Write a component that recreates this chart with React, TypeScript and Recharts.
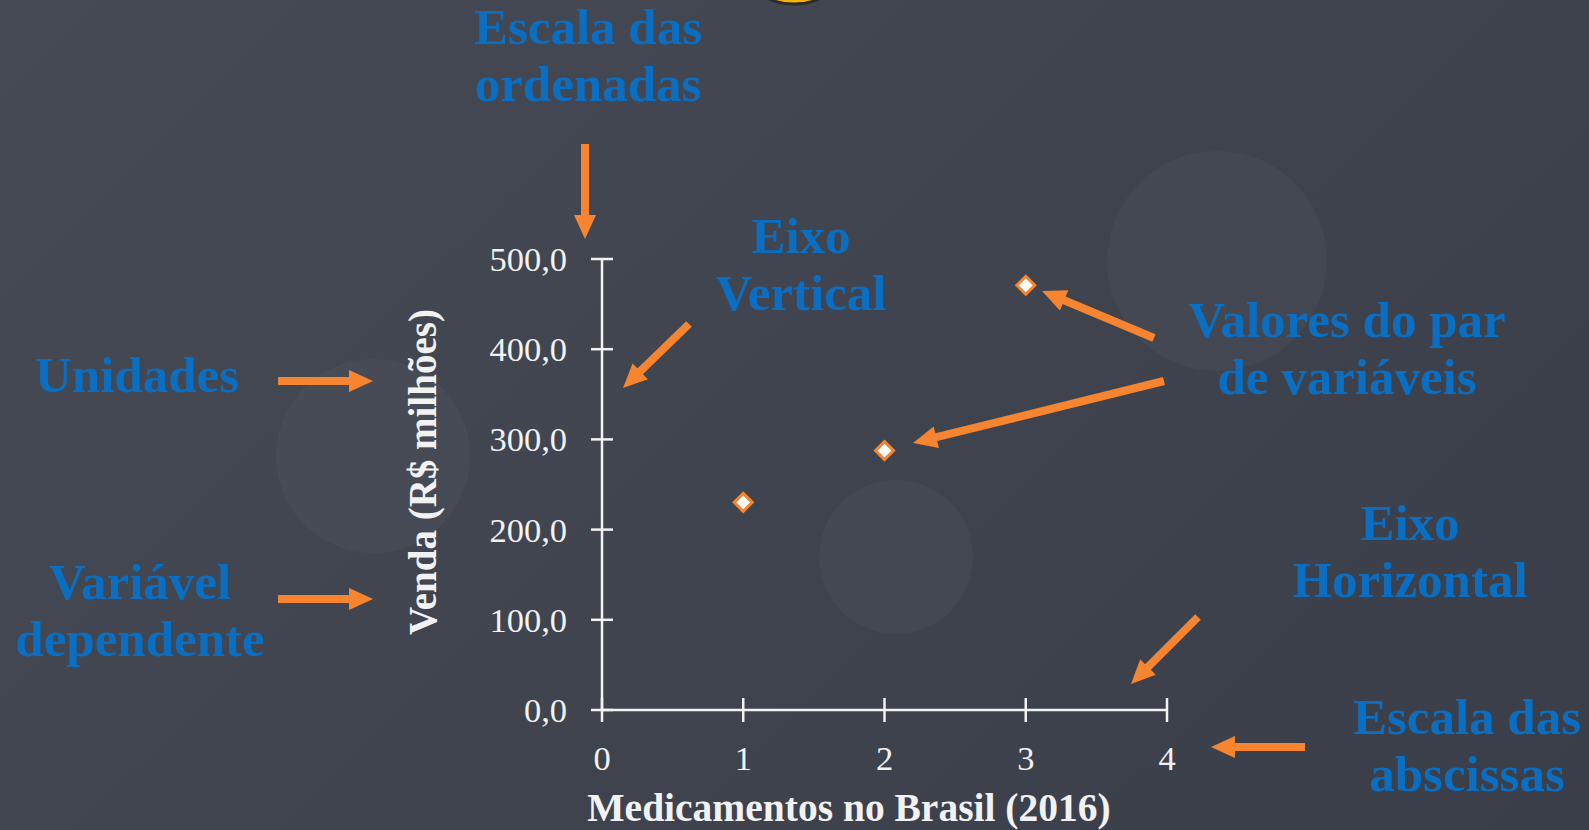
import { ScatterChart, Scatter, XAxis, YAxis } from 'recharts';

const medicamentos = [1, 2, 3];
const vendas = [230.2, 287.6, 470.9];
const xTicks = [0, 1, 2, 3, 4];
const yTicks = [0, 100, 200, 300, 400, 500];

const xTitle = 'Medicamentos no Brasil (2016)';
const yTitle = 'Venda (R$ milhões)';

const data = medicamentos.map((m, i) => ({ x: m, y: vendas[i] }));

const W = 1589;
const H = 830;
const ORANGE = '#f7852f';
const BLUE = '#0a6fc2';
const AXIS = '#f2f2f2';
const SERIF = '"Liberation Serif", "DejaVu Serif", serif';

// annotation texts (blue) and arrows, positioned on the slide
const notes = [
  { lines: ['Escala das', 'ordenadas'], x: 588, y: 44 },
  { lines: ['Eixo', 'Vertical'], x: 801, y: 253 },
  { lines: ['Unidades'], x: 137, y: 392 },
  { lines: ['Variável', 'dependente'], x: 140, y: 599 },
  { lines: ['Valores do par', 'de variáveis'], x: 1347, y: 337 },
  { lines: ['Eixo', 'Horizontal'], x: 1410, y: 540 },
  { lines: ['Escala das', 'abscissas'], x: 1467, y: 734 },
];

const arrows = [
  [585, 144, 585, 239],
  [689, 324, 623, 388],
  [278, 381, 373, 381],
  [278, 599, 373, 599],
  [1154, 338, 1042, 291],
  [1164, 381, 913, 443],
  [1198, 617, 1131, 684],
  [1305, 747, 1211, 747],
];

const Arrow = ({ a }: { a: number[] }) => {
  const [x1, y1, x2, y2] = a;
  const dx = x2 - x1;
  const dy = y2 - y1;
  const len = Math.sqrt(dx * dx + dy * dy);
  const ux = dx / len;
  const uy = dy / len;
  const head = 24;
  const half = 11;
  const bx = x2 - ux * head;
  const by = y2 - uy * head;
  const pts = `${x2},${y2} ${bx - uy * half},${by + ux * half} ${bx + uy * half},${by - ux * half}`;
  return (
    <g>
      <line x1={x1} y1={y1} x2={bx + ux * 2} y2={by + uy * 2} stroke={ORANGE} strokeWidth={8} />
      <polygon points={pts} fill={ORANGE} />
    </g>
  );
};

const fmt = (v: number) => v.toFixed(1).replace('.', ',');

const YTick = (props: any) => {
  const { x, y, payload } = props;
  return (
    <g>
      <line x1={x + 24} x2={x + 46} y1={y} y2={y} stroke={AXIS} strokeWidth={2.5} />
      <text x={x} y={y} dy="0.35em" textAnchor="end" fill={AXIS} fontSize={34.5} fontFamily={SERIF}>
        {fmt(payload.value)}
      </text>
    </g>
  );
};

const XTick = (props: any) => {
  const { x, y, payload } = props;
  return (
    <g>
      <line x1={x} x2={x} y1={y - 48} y2={y - 24} stroke={AXIS} strokeWidth={2.5} />
      <text x={x} y={y} dy="0.69em" textAnchor="middle" fill={AXIS} fontSize={34.5} fontFamily={SERIF}>
        {payload.value}
      </text>
    </g>
  );
};

const Diamond = (props: any) => {
  const { cx, cy } = props;
  const r = 9;
  return (
    <polygon
      points={`${cx},${cy - r} ${cx + r},${cy} ${cx},${cy + r} ${cx - r},${cy}`}
      fill="#ffffff"
      stroke={ORANGE}
      strokeWidth={3}
    />
  );
};

export default function App() {
  return (
    <div
      style={{
        position: 'fixed',
        left: 0,
        top: 0,
        width: W,
        height: H,
        overflow: 'hidden',
        background: 'linear-gradient(135deg, #454a55 0%, #3f444f 50%, #393e49 100%)',
      }}
    >
      <svg width={W} height={H} style={{ position: 'absolute', left: 0, top: 0 }}>
        <circle cx={1217} cy={261} r={110} fill="#ffffff" fillOpacity={0.028} />
        <circle cx={373} cy={456} r={97} fill="#ffffff" fillOpacity={0.028} />
        <circle cx={896} cy={557} r={77} fill="#ffffff" fillOpacity={0.028} />
        <ellipse cx={794} cy={-10} rx={32} ry={14} fill="#f6b400" stroke="#2a2c30" strokeWidth={3} />
      </svg>

      <div style={{ position: 'absolute', left: 0, top: 0 }}>
        <ScatterChart width={W} height={H} margin={{ top: 259, right: 422, bottom: 40, left: 502 }}>
          <XAxis
            type="number"
            dataKey="x"
            domain={[0, 4]}
            ticks={xTicks}
            height={80}
            stroke={AXIS}
            strokeWidth={2.5}
            tickLine={false}
            tickSize={12}
            tickMargin={24}
            tick={<XTick />}
            label={{
              content: () => (
                <text
                  x={849}
                  y={821}
                  textAnchor="middle"
                  fill={AXIS}
                  fontSize={39.5}
                  fontWeight="bold"
                  fontFamily={SERIF}
                >
                  {xTitle}
                </text>
              ),
            }}
          />
          <YAxis
            type="number"
            dataKey="y"
            domain={[0, 500]}
            ticks={yTicks}
            width={100}
            stroke={AXIS}
            strokeWidth={2.5}
            tickLine={false}
            tickSize={11}
            tickMargin={24}
            tick={<YTick />}
            label={{
              content: () => {
                const tx = 436;
                const ty = 472;
                return (
                  <text
                    x={tx}
                    y={ty}
                    transform={`rotate(-90 ${tx} ${ty})`}
                    textAnchor="middle"
                    fill={AXIS}
                    fontSize={39}
                    fontWeight="bold"
                    fontFamily={SERIF}
                  >
                    {yTitle}
                  </text>
                );
              },
            }}
          />
          <Scatter data={data} shape={<Diamond />} isAnimationActive={false} />
        </ScatterChart>
      </div>

      <svg width={W} height={H} style={{ position: 'absolute', left: 0, top: 0, pointerEvents: 'none' }}>
        {notes.map((n, i) => (
          <text key={i} x={n.x} y={n.y} textAnchor="middle" fill={BLUE} fontSize={51} fontWeight="bold" fontFamily={SERIF}>
            {n.lines.map((l, j) => (
              <tspan key={j} x={n.x} dy={j === 0 ? 0 : 57}>
                {l}
              </tspan>
            ))}
          </text>
        ))}
        {arrows.map((a, i) => (
          <Arrow key={i} a={a} />
        ))}
      </svg>
    </div>
  );
}
